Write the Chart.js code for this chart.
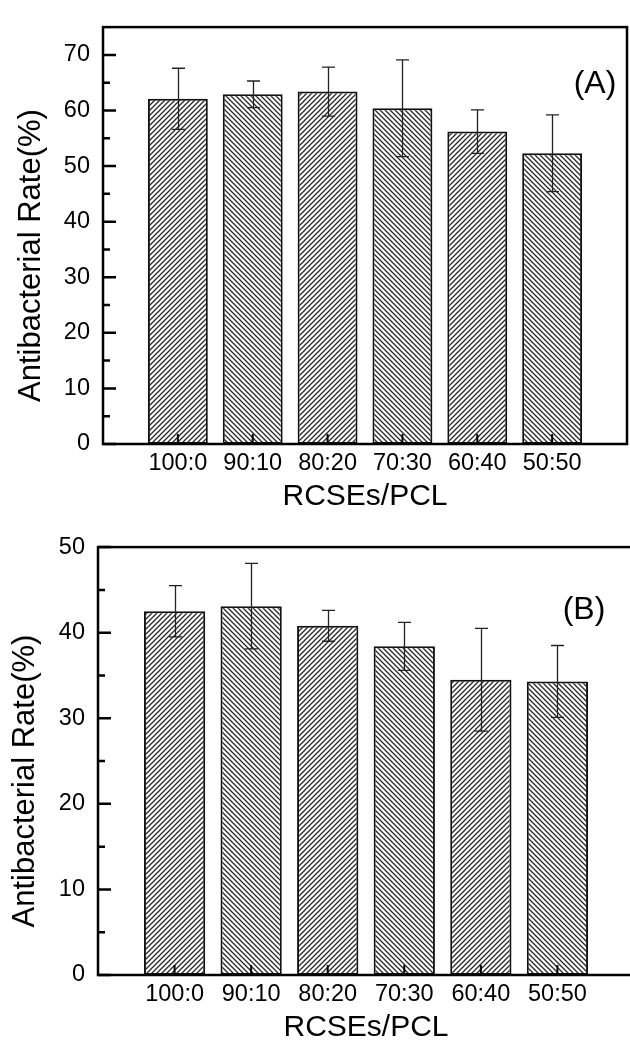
<!DOCTYPE html>
<html><head><meta charset="utf-8">
<script src="https://cdn.jsdelivr.net/npm/chart.js@4.4.1/dist/chart.umd.min.js"></script>
<style>
html,body{margin:0;padding:0;background:#fff;overflow:hidden;width:630px;height:1040px;}
#ca{position:absolute;left:0;top:0;}
#cb{position:absolute;left:0;top:520px;}
</style></head><body>
<canvas id="ca" width="630" height="520"></canvas>
<canvas id="cb" width="640" height="540"></canvas>
<script>
const categories = ['100:0', '90:10', '80:20', '70:30', '60:40', '50:50'];
const ratesA  = [62.1, 62.9, 63.4, 60.4, 56.2, 52.3];
const errorsA = [5.5, 2.4, 4.4, 8.7, 3.9, 6.9];
const ratesB  = [42.5, 43.1, 40.8, 38.4, 34.5, 34.3];
const errorsB = [3.0, 5.0, 1.8, 2.8, 6.0, 4.2];
const yTicksA = [0, 10, 20, 30, 40, 50, 60, 70];
const yMinorA = [5, 15, 25, 35, 45, 55, 65];
const yTicksB = [0, 10, 20, 30, 40, 50];
const yMinorB = [5, 15, 25, 35, 45];
const xTitle = 'RCSEs/PCL';
const yTitle = 'Antibacterial Rate(%)';

const FONT = "'Liberation Sans', Arial, sans-serif";
Chart.defaults.font.family = FONT;
Chart.defaults.color = '#000';

function hatch(dir) {
  const s = 5;
  const c = document.createElement('canvas');
  c.width = s; c.height = s;
  const g = c.getContext('2d');
  g.fillStyle = '#fff'; g.fillRect(0, 0, s, s);
  g.strokeStyle = '#262626'; g.lineWidth = 1.25; g.lineCap = 'square';
  g.beginPath();
  if (dir === '/') {
    g.moveTo(0, s); g.lineTo(s, 0);
    g.moveTo(-1, 1); g.lineTo(1, -1);
    g.moveTo(s - 1, s + 1); g.lineTo(s + 1, s - 1);
  } else {
    g.moveTo(0, 0); g.lineTo(s, s);
    g.moveTo(-1, s - 1); g.lineTo(1, s + 1);
    g.moveTo(s - 1, -1); g.lineTo(s + 1, 1);
  }
  g.stroke();
  return g.createPattern(c, 'repeat');
}

const decor = {
  id: 'decor',
  afterDatasetsDraw(chart, args, o) {
    const {ctx, chartArea: a, scales: {x, y}} = chart;
    ctx.save();
    // error bars
    ctx.strokeStyle = '#222'; ctx.lineWidth = 1.3;
    o.values.forEach((v, i) => {
      const px = Math.round(x.getPixelForValue(i + 1)) + 0.5;
      const t = y.getPixelForValue(v + o.errors[i]);
      const b = y.getPixelForValue(v - o.errors[i]);
      ctx.beginPath();
      ctx.moveTo(px, t); ctx.lineTo(px, b);
      ctx.moveTo(px - 6.5, t); ctx.lineTo(px + 6.5, t);
      ctx.moveTo(px - 6.5, b); ctx.lineTo(px + 6.5, b);
      ctx.stroke();
    });
    // inward ticks
    ctx.strokeStyle = '#000'; ctx.lineWidth = 2.5;
    ctx.beginPath();
    o.major.forEach(v => { const py = y.getPixelForValue(v); ctx.moveTo(a.left, py); ctx.lineTo(a.left + 13, py); });
    o.minor.forEach(v => { const py = y.getPixelForValue(v); ctx.moveTo(a.left, py); ctx.lineTo(a.left + 7, py); });
    ctx.stroke();
    ctx.lineWidth = 2;
    ctx.beginPath();
    categories.forEach((c, i) => { const px = x.getPixelForValue(i + 1); ctx.moveTo(px, a.bottom); ctx.lineTo(px, a.bottom - 10); });
    ctx.stroke();
    // frame
    ctx.lineWidth = 2.5;
    ctx.strokeRect(a.left, a.top, a.right - a.left, a.bottom - a.top);
    // panel label
    ctx.fillStyle = '#000';
    ctx.font = '32px ' + FONT;
    ctx.textAlign = 'center'; ctx.textBaseline = 'middle';
    ctx.fillText(o.label, a.right - o.lx, a.top + o.ly);
    // y axis title
    ctx.save();
    ctx.translate(a.left - o.tx, (a.top + a.bottom) / 2 + o.ty);
    ctx.rotate(-Math.PI / 2);
    ctx.font = '31px ' + FONT;
    ctx.fillText(yTitle, 0, 0);
    ctx.restore();
    ctx.restore();
  }
};

function makeChart(id, values, errors, yMax, major, minor, cfg) {
  return new Chart(document.getElementById(id), {
    type: 'bar',
    data: {
      datasets: [{
        data: values.map((v, i) => ({x: i + 1, y: v})),
        backgroundColor: values.map((v, i) => hatch(i % 2 === 0 ? '/' : '\\')),
        borderColor: '#111', borderWidth: 2, borderSkipped: false,
        barPercentage: 0.8, categoryPercentage: 1.0
      }]
    },
    options: {
      responsive: false, animation: false,
      layout: {padding: {top: cfg.top, right: cfg.right, left: 0, bottom: 0}},
      plugins: {
        legend: {display: false}, tooltip: {enabled: false},
        decor: {values, errors, major, minor, label: cfg.label, lx: cfg.lx, ly: cfg.ly, tx: cfg.tx, ty: cfg.ty}
      },
      scales: {
        x: {
          type: 'linear', min: 0, max: 7, offset: false,
          grid: {display: false, drawTicks: false, offset: false}, border: {display: false},
          afterBuildTicks: s => { s.ticks = categories.map((c, i) => ({value: i + 1})); },
          afterFit: s => { s.height = cfg.xh; },
          ticks: {autoSkip: false, maxRotation: 0, padding: 5, font: {size: 23.5},
                  callback: v => categories[v - 1]},
          title: {display: true, text: xTitle, font: {size: 30}, padding: {top: 0, bottom: cfg.xtp}}
        },
        y: {
          min: 0, max: yMax,
          grid: {display: false, drawTicks: false}, border: {display: false},
          afterBuildTicks: s => { s.ticks = major.map(v => ({value: v})); },
          afterFit: s => { s.width = cfg.yw; },
          ticks: {padding: 13, font: {size: 23.5}},
          title: {display: false}
        }
      }
    },
    plugins: [decor]
  });
}

makeChart('ca', ratesA, errorsA, 75, yTicksA, yMinorA,
  {top: 15, right: 3, xh: 76, yw: 103, xtp: 5, label: '(A)', lx: 32, ly: 57, tx: 72, ty: 20});
makeChart('cb', ratesB, errorsB, 50, yTicksB, yMinorB,
  {top: 19, right: 6, xh: 85, yw: 98, xtp: 14, label: '(B)', lx: 50, ly: 63, tx: 73, ty: 20});
</script>
</body></html>
